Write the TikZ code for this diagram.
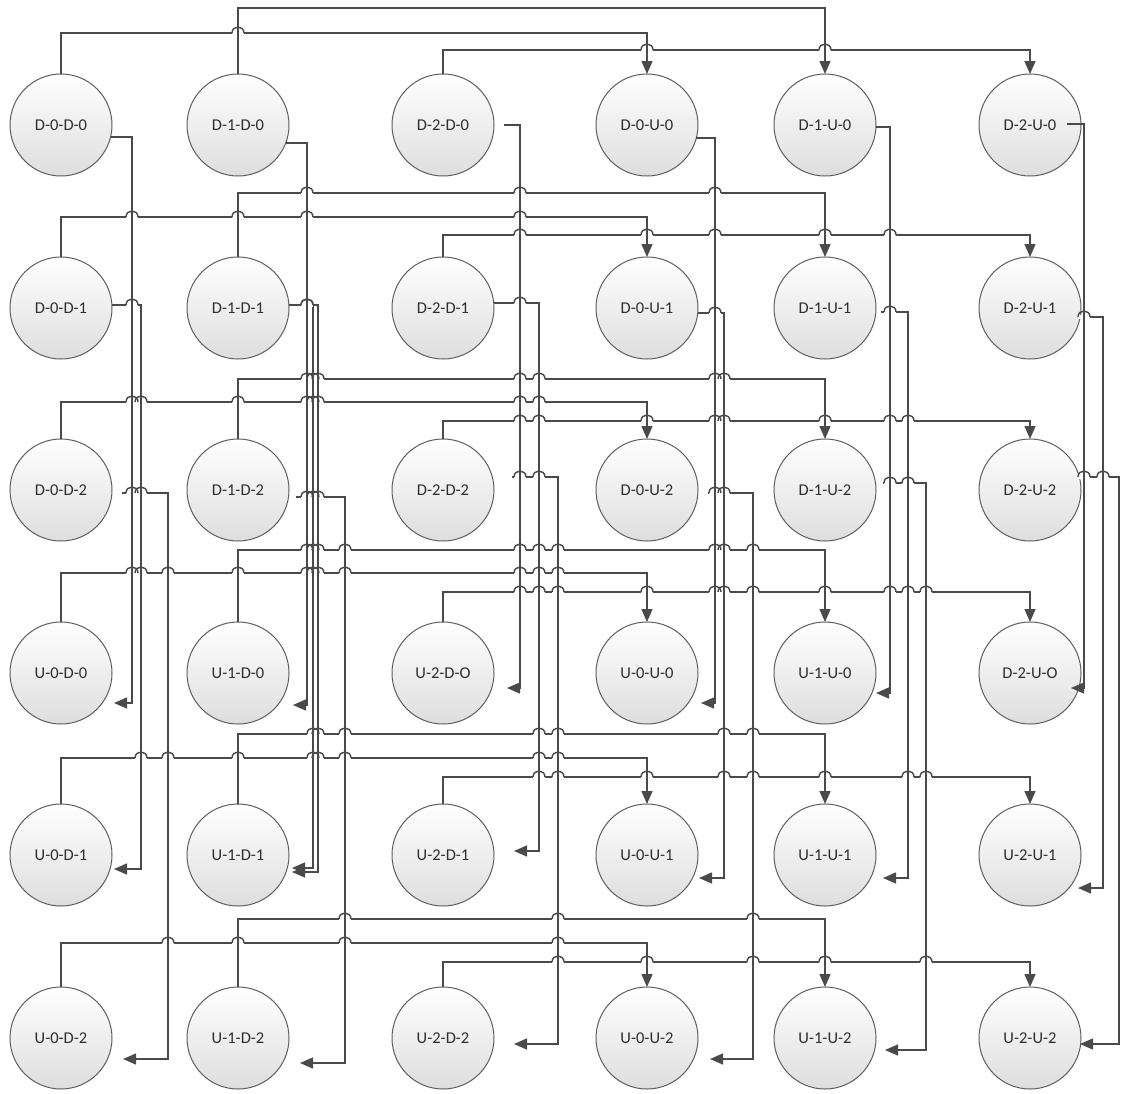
\documentclass[tikz,border=0pt]{standalone}
\usepackage{fontspec}
\setmainfont{Carlito}
\usetikzlibrary{arrows.meta,calc}
\definecolor{lc}{HTML}{4a4a4a}
\definecolor{cc}{HTML}{5e5e5e}
\tikzset{
  st/.style={circle, minimum size=102pt, inner sep=0pt, outer sep=0pt, draw=cc, line width=1pt,
    top color=white, bottom color=black!13, text=black!82, font=\fontsize{16.5}{19}\selectfont},
  ln/.style={draw=lc, line width=1.45pt},
  arr/.style={ln, -{Triangle[length=13pt,width=11pt]}},
}
\def\Hlist{33/61/647, 8/238/825, 50/443/1030,
217/61/647, 193/238/825, 235/443/1030,
402/61/647, 379/238/825, 421/443/1030,
573/61/647, 550/238/825, 592/443/1030,
758/61/647, 734/238/825, 777/443/1030,
943/61/647, 919/238/825, 962/443/1030,
137/110.6/132, 305/111.9/141, 493/122/168,
143/285.7/307, 305/288.9/313, 305/288.9/318, 497/296/345,
125/504/520, 303/493.75/539, 477/512/558,
138/696.3/715, 313/697.75/724, 493/708/753,
127/876/890, 312/881/908, 483/883/926,
124/1067/1084, 317/1080.2/1103, 477/1079.3/1119,
703/114/132, 869/114/141, 1059/123/168, 705/293/307, 868/292/313, 872/292/318, 1063/300/345,
688/507/520, 851/514/539, 1044/514/558, 703/701/715, 878/699/724, 1059/710/753,
693/876/890, 878/883/908, 1050/885/926, 688/1071/1084, 888/1078/1103, 1044/1080/1119}
\def\Vlist{132/137/703, 141/305/869, 168/493/1059, 307/143/705, 313/305/868, 318/305/872, 345/497/1063,
520/125/688, 539/303/851, 558/477/1044, 715/138/703, 724/313/878, 753/493/1059,
890/127/693, 908/312/878, 926/483/1050, 1084/124/688, 1103/317/888, 1119/477/1044,
61/33/74, 238/8/74, 443/50/74, 647/33/74, 825/8/74, 1030/50/74,
61/217/257, 238/193/257, 443/235/257, 647/217/257, 825/193/257, 1030/235/257,
61/402/439, 238/379/439, 443/421/439, 647/402/439, 825/379/439, 1030/421/439,
61/573/622, 238/550/622, 443/592/622, 647/573/622, 825/550/622, 1030/592/622,
61/758/804, 238/734/804, 443/777/804, 647/758/804, 825/734/804, 1030/777/804,
61/943/987, 238/919/987, 443/962/987, 647/943/987, 825/919/987, 1030/962/987}
\begin{document}
\begin{tikzpicture}[x=1pt,y=-1pt]
\fill[white] (0,0) rectangle (1122,1093);
\useasboundingbox (0,0) rectangle (1122,1093);
% nodes
\node[st] (n00) at (61,125) {D-0-D-0};
\node[st] (n01) at (238,125) {D-1-D-0};
\node[st] (n02) at (443,125) {D-2-D-0};
\node[st] (n03) at (647,125) {D-0-U-0};
\node[st] (n04) at (825,125) {D-1-U-0};
\node[st] (n05) at (1030,125) {D-2-U-0};
\node[st] (n10) at (61,308) {D-0-D-1};
\node[st] (n11) at (238,308) {D-1-D-1};
\node[st] (n12) at (443,308) {D-2-D-1};
\node[st] (n13) at (647,308) {D-0-U-1};
\node[st] (n14) at (825,308) {D-1-U-1};
\node[st] (n15) at (1030,308) {D-2-U-1};
\node[st] (n20) at (61,490) {D-0-D-2};
\node[st] (n21) at (238,490) {D-1-D-2};
\node[st] (n22) at (443,490) {D-2-D-2};
\node[st] (n23) at (647,490) {D-0-U-2};
\node[st] (n24) at (825,490) {D-1-U-2};
\node[st] (n25) at (1030,490) {D-2-U-2};
\node[st] (n30) at (61,673) {U-0-D-0};
\node[st] (n31) at (238,673) {U-1-D-0};
\node[st] (n32) at (443,673) {U-2-D-O};
\node[st] (n33) at (647,673) {U-0-U-0};
\node[st] (n34) at (825,673) {U-1-U-0};
\node[st] (n35) at (1030,673) {D-2-U-O};
\node[st] (n40) at (61,855) {U-0-D-1};
\node[st] (n41) at (238,855) {U-1-D-1};
\node[st] (n42) at (443,855) {U-2-D-1};
\node[st] (n43) at (647,855) {U-0-U-1};
\node[st] (n44) at (825,855) {U-1-U-1};
\node[st] (n45) at (1030,855) {U-2-U-1};
\node[st] (n50) at (61,1038) {U-0-D-2};
\node[st] (n51) at (238,1038) {U-1-D-2};
\node[st] (n52) at (443,1038) {U-2-D-2};
\node[st] (n53) at (647,1038) {U-0-U-2};
\node[st] (n54) at (825,1038) {U-1-U-2};
\node[st] (n55) at (1030,1038) {U-2-U-2};
% top connectors
\draw[arr] (n00.north) -- (n00.north |- 0,33) -| (n03.north);
\draw[arr] (n01.north) -- (n01.north |- 0,8) -| (n04.north);
\draw[arr] (n02.north) -- (n02.north |- 0,50) -| (n05.north);
\draw[arr] (n10.north) -- (n10.north |- 0,217) -| (n13.north);
\draw[arr] (n11.north) -- (n11.north |- 0,193) -| (n14.north);
\draw[arr] (n12.north) -- (n12.north |- 0,235) -| (n15.north);
\draw[arr] (n20.north) -- (n20.north |- 0,402) -| (n23.north);
\draw[arr] (n21.north) -- (n21.north |- 0,379) -| (n24.north);
\draw[arr] (n22.north) -- (n22.north |- 0,421) -| (n25.north);
\draw[arr] (n30.north) -- (n30.north |- 0,573) -| (n33.north);
\draw[arr] (n31.north) -- (n31.north |- 0,550) -| (n34.north);
\draw[arr] (n32.north) -- (n32.north |- 0,592) -| (n35.north);
\draw[arr] (n40.north) -- (n40.north |- 0,758) -| (n43.north);
\draw[arr] (n41.north) -- (n41.north |- 0,734) -| (n44.north);
\draw[arr] (n42.north) -- (n42.north |- 0,777) -| (n45.north);
\draw[arr] (n50.north) -- (n50.north |- 0,943) -| (n53.north);
\draw[arr] (n51.north) -- (n51.north |- 0,919) -| (n54.north);
\draw[arr] (n52.north) -- (n52.north |- 0,962) -| (n55.north);
% right connectors
\draw[arr] ($(n00)+(49.6,12)$) -| (132,703) -- ($(n30)+(53,30)$);
\draw[arr] ($(n10)+(50.9,-3)$) -| (141,869) -- ($(n40)+(53,14)$);
\draw[arr] ($(n20)+(61,3)$) -| (168,1059) -- ($(n50)+(62,21)$);
\draw[arr] ($(n01)+(47.7,18)$) -| (307,705) -- ($(n31)+(55,32)$);
\draw[arr] ($(n11)+(50.9,-3)$) -| (313,868) -- ($(n41)+(54,13)$);
\draw[arr] ($(n11)+(50.9,-3)$) -| (318,872) -- ($(n41)+(54,17)$);
\draw[arr] ($(n21)+(58,7)$) -| (345,1063) -- ($(n51)+(62,25)$);
\draw[arr] ($(n02)+(61,0)$) -| (520,688) -- ($(n32)+(64,15)$);
\draw[arr] ($(n12)+(50.75,-5)$) -| (539,851) -- ($(n42)+(71,-4)$);
\draw[arr] ($(n22)+(69,-13)$) -| (558,1044) -- ($(n52)+(71,6)$);
\draw[arr] ($(n03)+(49.3,13)$) -| (715,703) -- ($(n33)+(54,30)$);
\draw[arr] ($(n13)+(50.75,5)$) -| (724,878) -- ($(n43)+(52,23)$);
\draw[arr] ($(n23)+(61,3)$) -| (753,1059) -- ($(n53)+(63,21)$);
\draw[arr] ($(n04)+(51,2)$) -| (890,693) -- ($(n34)+(51,20)$);
\draw[arr] ($(n14)+(56,4)$) -| (908,878) -- ($(n44)+(58,23)$);
\draw[arr] ($(n24)+(58,-7)$) -| (926,1050) -- ($(n54)+(60,12)$);
\draw[arr] ($(n05)+(37,-1)$) -| (1084,688) -- ($(n35)+(41,15)$);
\draw[arr] ($(n15)+(50.2,9)$) -| (1103,888) -- ($(n45)+(48,33)$);
\draw[arr] ($(n25)+(49.3,-13)$) -| (1119,1044) -- ($(n55)+(50,6)$);
% line hops: pass 1 erase
\foreach \hY/\hA/\hB in \Hlist {\foreach \vX/\vA/\vB in \Vlist {
  \pgfmathtruncatemacro\hit{and(and(\vX>\hA+2,\vX<\hB-2),and(\hY>\vA+2,\hY<\vB-2))}
  \ifnum\hit=1 \fill[white] (\vX-6,\hY-1.7) rectangle (\vX+6,\hY+1.7);\fi
}}
% pass 2 redraw
\foreach \hY/\hA/\hB in \Hlist {\foreach \vX/\vA/\vB in \Vlist {
  \pgfmathtruncatemacro\hit{and(and(\vX>\hA+2,\vX<\hB-2),and(\hY>\vA+2,\hY<\vB-2))}
  \ifnum\hit=1
    \draw[ln] (\vX,\hY-2.6) -- (\vX,\hY+2.6);
    \draw[ln] (\vX-6,\hY) .. controls (\vX-6,\hY-8) and (\vX+6,\hY-8) .. (\vX+6,\hY);
  \fi
}}
\end{tikzpicture}
\end{document}
